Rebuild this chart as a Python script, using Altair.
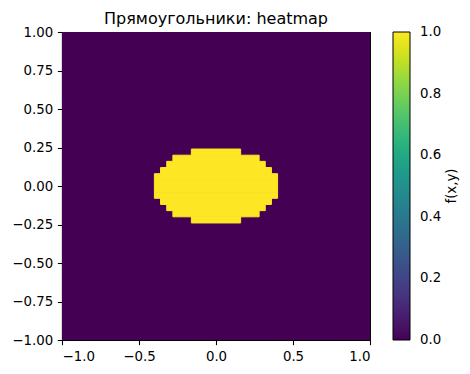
import altair as alt
import pandas as pd

# grid: 50 x 50 cells covering [-1, 1] x [-1, 1]
n_cells = 50
x_min, x_max = -1.0, 1.0
y_min, y_max = -1.0, 1.0
background_value = 0.0
yellow_value = 1.0

# yellow cells: row index counted from the top,
# first and last yellow column index in that row
yellow_rows = [19, 20, 21, 22, 23, 24, 25, 26, 27, 28, 29, 30]
yellow_start = [21, 18, 17, 16, 15, 15, 15, 15, 16, 17, 18, 21]
yellow_end = [28, 31, 32, 33, 34, 34, 34, 34, 33, 32, 31, 28]

x_ticks = [-1.0, -0.5, 0.0, 0.5, 1.0]
y_ticks = [-1.0, -0.75, -0.5, -0.25, 0.0, 0.25, 0.5, 0.75, 1.0]
cbar_ticks = [0.0, 0.2, 0.4, 0.6, 0.8, 1.0]

title = "Прямоугольники: heatmap"
cbar_title = "f(x,y)"

cell_w = (x_max - x_min) / n_cells
cell_h = (y_max - y_min) / n_cells
bg_df = pd.DataFrame([{"x0": x_min, "x1": x_max, "y0": y_min, "y1": y_max,
                       "f": background_value}])
recs = []
for r, s, e in zip(yellow_rows, yellow_start, yellow_end):
    recs.append({"x0": x_min + s * cell_w, "x1": x_min + (e + 1) * cell_w,
                 "y0": y_max - (r + 1) * cell_h, "y1": y_max - r * cell_h,
                 "f": yellow_value})
yellow_df = pd.DataFrame(recs)

# nudge the end labels a hair inside so they are centred on their ticks
legend_values = [min(max(v, 0.001), 0.999) for v in cbar_ticks]

font = "DejaVu Sans"
fs = 13.33

color_scale = alt.Scale(scheme="viridis", domain=[0, 1])
x_scale = alt.Scale(domain=[x_min, x_max], nice=False, zero=False)
y_scale = alt.Scale(domain=[y_min, y_max], nice=False, zero=False)
x_enc = alt.X("x0:Q", scale=x_scale,
              axis=alt.Axis(values=x_ticks, format=".1f", title=None))
y_enc = alt.Y("y0:Q", scale=y_scale,
              axis=alt.Axis(values=y_ticks, format=".2f", title=None))
color_enc = alt.Color("f:Q", scale=color_scale,
                      legend=alt.Legend(title=None, type="gradient", orient="none",
                                        legendX=331, legendY=0,
                                        direction="vertical",
                                        gradientLength=308, gradientThickness=17,
                                        gradientStrokeColor="black",
                                        gradientStrokeWidth=1,
                                        values=legend_values, format=".1f",
                                        labelOffset=10, labelFont=font,
                                        labelFontSize=fs, labelColor="black"))

bg = alt.Chart(bg_df).mark_rect().encode(
    x=x_enc, x2="x1:Q", y=y_enc, y2="y1:Q", color=color_enc)

yellow_layer = alt.Chart(yellow_df).mark_rect(
    stroke="#fde725", strokeWidth=1).encode(
    x=x_enc, x2="x1:Q", y=y_enc, y2="y1:Q", color=color_enc)

cbar_label = alt.Chart(pd.DataFrame({"t": [cbar_title]})).mark_text(
    angle=270, align="center", baseline="middle", font=font, fontSize=fs,
    color="black",
).encode(text="t:N", x=alt.value(390), y=alt.value(154))

chart = alt.layer(bg, yellow_layer, cbar_label).properties(
    width=308, height=308,
    title=alt.Title(title, font=font, fontSize=16, fontWeight="normal",
                    color="black", offset=0, baseline="alphabetic",
                    anchor="middle", dy=15),
    padding={"left": 54, "top": 24, "right": 92, "bottom": 26},
    autosize=alt.AutoSizeParams(type="none"),
).configure_view(
    stroke="black", strokeWidth=1.07,
).configure_axis(
    domainColor="black", domainWidth=1.07,
    tickColor="black", tickWidth=1.07, tickSize=4.67,
    labelPadding=4.67, labelFont=font, labelFontSize=fs, labelColor="black",
    labelOverlap=False, grid=False,
)

chart.save("out.html", embed_options={"renderer": "svg", "actions": False})
